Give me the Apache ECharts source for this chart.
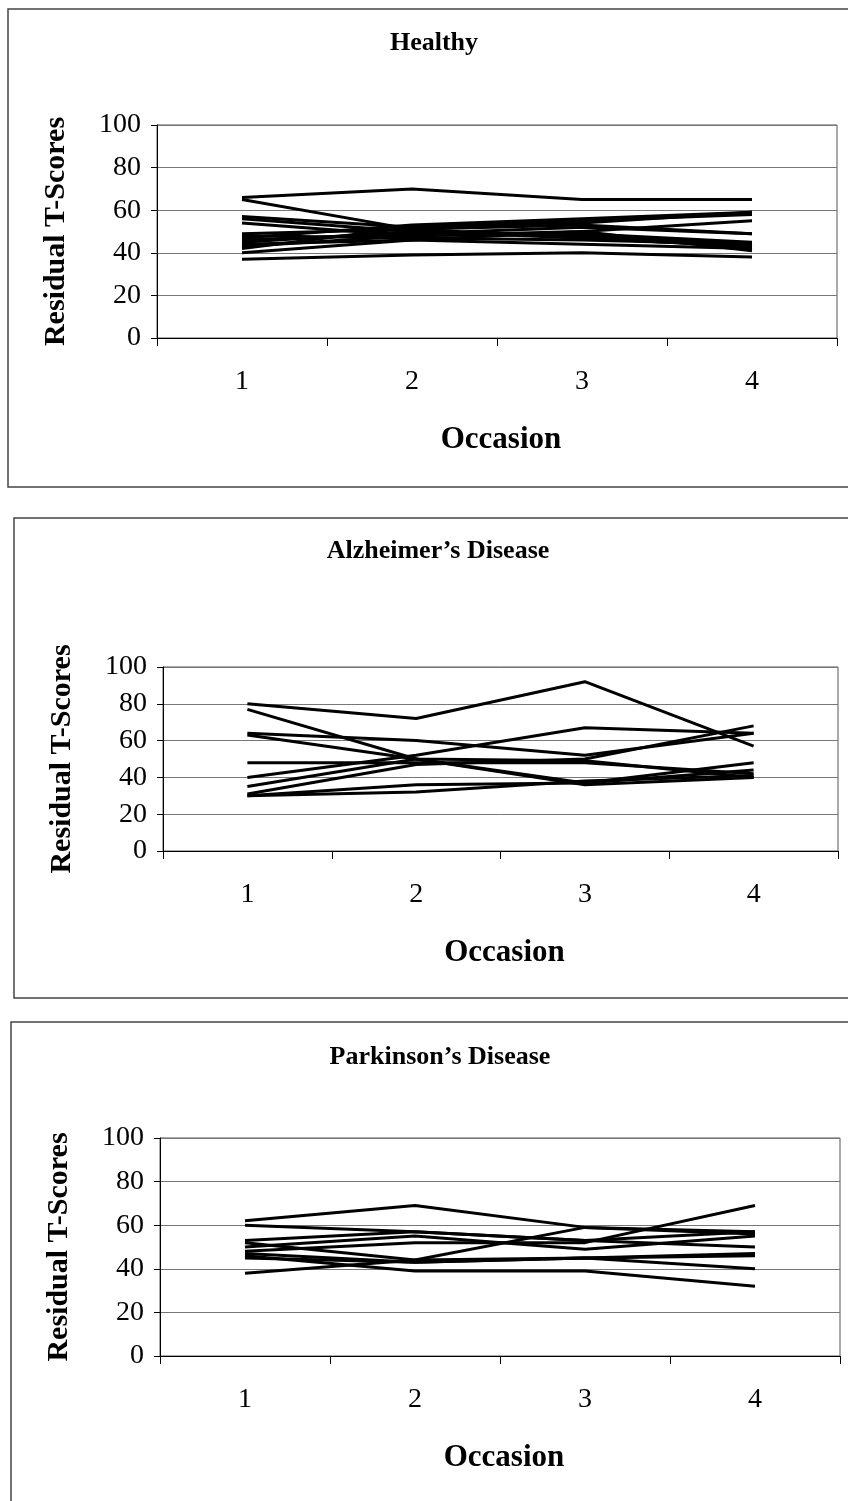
<!DOCTYPE html>
<html>
<head>
<meta charset="utf-8">
<script src="https://cdn.jsdelivr.net/npm/echarts@6/dist/echarts.min.js"></script>
<style>
  html, body { margin: 0; padding: 0; background: #fff; }
  #chart { width: 848px; height: 1501px; }
</style>
</head>
<body>
<div id="chart"></div>
<script>
const occasions = ['1', '2', '3', '4']
const yTicks = [0, 20, 40, 60, 80, 100]

// one row per subject, values at occasions 1..4
const healthy = [
  [66, 70, 65, 65],
  [65, 51, 47, 43],
  [57, 52, 54, 59],
  [56, 50, 48, 44],
  [54, 48, 50, 55],
  [49, 51, 53, 49],
  [48, 47, 46, 44],
  [47, 53, 56, 59],
  [46, 49, 52, 49],
  [45, 50, 47, 43],
  [44, 46, 44, 42],
  [43, 48, 49, 45],
  [42, 52, 55, 58],
  [40, 46, 50, 41],
  [37, 39, 40, 38],
]

const alzheimers = [
  [80, 72, 92, 57],
  [77, 50, 49, 40],
  [64, 60, 52, 64],
  [63, 50, 36, 40],
  [48, 48, 48, 42],
  [40, 52, 67, 64],
  [35, 50, 37, 48],
  [31, 47, 50, 68],
  [30, 36, 37, 44],
  [30, 32, 38, 41],
]

const parkinsons = [
  [62, 69, 59, 57],
  [60, 57, 53, 50],
  [53, 57, 53, 57],
  [52, 44, 59, 56],
  [50, 55, 49, 55],
  [48, 52, 52, 69],
  [47, 43, 45, 40],
  [46, 39, 39, 32],
  [45, 43, 45, 47],
  [38, 44, 45, 46],
]

const panels = [
  { title: 'Healthy', data: healthy, box: [8, 9, 860, 478], grid: [157, 125, 680, 213], titleAt: [434, 43] },
  { title: 'Alzheimer\u2019s Disease', data: alzheimers, box: [14, 518, 860, 480], grid: [163, 667, 675, 184], titleAt: [438, 551] },
  { title: 'Parkinson\u2019s Disease', data: parkinsons, box: [11, 1022, 860, 500], grid: [160, 1138, 680, 218], titleAt: [440, 1057] },
]

const serif = '"Liberation Serif", "DejaVu Serif", serif'

const chart = echarts.init(document.getElementById('chart'))

chart.setOption({
  animation: false,
  backgroundColor: '#fff',
  graphic: panels.flatMap((p) => [
    {
      type: 'rect',
      shape: { x: p.box[0], y: p.box[1], width: p.box[2], height: p.box[3] },
      style: { fill: 'none', stroke: '#444', lineWidth: 1.5 },
      silent: true,
    },
    {
      type: 'text',
      x: p.titleAt[0],
      y: p.titleAt[1],
      style: {
        text: p.title,
        align: 'center',
        verticalAlign: 'middle',
        font: 'bold 26px ' + serif,
        fill: '#000',
      },
      silent: true,
    },
  ]),
  grid: panels.map((p) => ({
    left: p.grid[0],
    top: p.grid[1],
    width: p.grid[2],
    height: p.grid[3],
    show: true,
    borderColor: '#555',
    borderWidth: 1,
  })),
  xAxis: panels.map((p, i) => ({
    type: 'category',
    gridIndex: i,
    data: occasions,
    boundaryGap: true,
    name: 'Occasion',
    nameLocation: 'middle',
    nameGap: 86,
    nameTextStyle: { fontFamily: serif, fontWeight: 'bold', fontSize: 31, color: '#000', padding: [0, 0, 0, 8] },
    axisLine: { lineStyle: { color: '#000', width: 1 } },
    axisTick: { show: true, inside: false, length: 8, lineStyle: { color: '#000' } },
    axisLabel: { fontFamily: serif, fontSize: 28, color: '#000', margin: 30 },
    splitLine: { show: false },
  })),
  yAxis: panels.map((p, i) => ({
    type: 'value',
    gridIndex: i,
    min: 0,
    max: 100,
    interval: 20,
    name: 'Residual T-Scores',
    nameLocation: 'middle',
    nameGap: 86,
    nameTextStyle: { fontFamily: serif, fontWeight: 'bold', fontSize: 30, color: '#000' },
    axisLine: { show: true, lineStyle: { color: '#000', width: 1 } },
    axisTick: { show: true, length: 6, lineStyle: { color: '#000' } },
    axisLabel: {
      fontFamily: serif,
      fontSize: 28,
      color: '#000',
      margin: 16,
      formatter: (v) => (yTicks.includes(v) ? String(v) : ''),
    },
    splitLine: { show: true, lineStyle: { color: '#777', width: 1 } },
  })),
  series: panels.flatMap((p, i) =>
    p.data.map((row) => ({
      type: 'line',
      xAxisIndex: i,
      yAxisIndex: i,
      data: row,
      showSymbol: false,
      symbol: 'none',
      lineStyle: { color: '#000', width: 3 },
    }))
  ),
})
</script>
</body>
</html>
